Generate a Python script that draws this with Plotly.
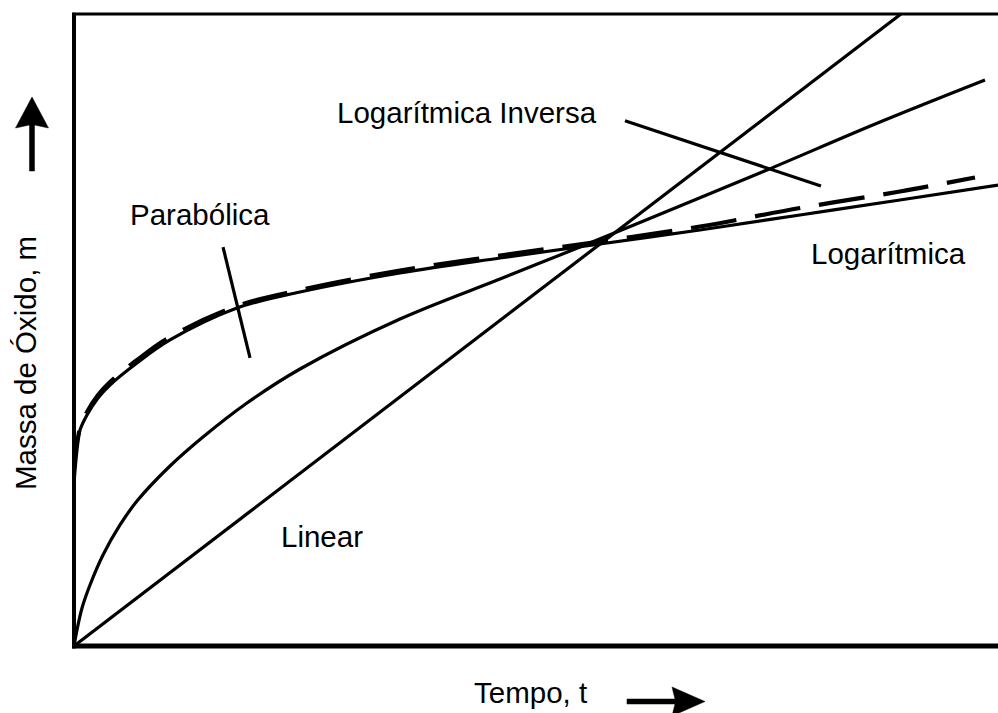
import plotly.graph_objects as go

# ---- data (time t and oxide mass m, arbitrary units) ----
linear_t = [0.0, 8.95]
linear_m = [0.0, 10.0]

inversa_t = [0.0, 0.0325, 0.0866, 0.1732, 0.3139, 0.4978, 0.6818, 1.039, 1.396, 1.872,
             2.446, 3.528, 4.610, 5.476, 6.558, 7.500, 8.723, 9.859]
inversa_m = [0.0, 0.253, 0.601, 0.965, 1.440, 1.915, 2.294, 2.848, 3.307, 3.845,
             4.383, 5.174, 5.807, 6.313, 6.962, 7.532, 8.291, 8.956]

log_t = [0.0, 0.0216, 0.0649, 0.1407, 0.2597, 0.3896, 0.6818, 1.039, 1.764, 2.446,
         3.528, 4.610, 5.693, 6.775, 7.857, 8.939, 10.0]
log_m = [2.674, 3.101, 3.418, 3.655, 3.924, 4.130, 4.478, 4.842, 5.348, 5.601,
         5.902, 6.139, 6.361, 6.582, 6.820, 7.057, 7.294]

parab_t = [0.0, 0.0649, 0.1407, 0.2597, 0.3896, 0.6818, 1.039, 1.764, 2.446,
           3.528, 4.610, 5.693, 6.775, 7.857, 8.939, 9.751]
parab_m = [2.674, 3.449, 3.703, 3.972, 4.177, 4.525, 4.889, 5.380, 5.633,
           5.941, 6.179, 6.400, 6.638, 6.930, 7.191, 7.413]

# leader lines for labels
ptr_parab_t = [1.613, 1.905]
ptr_parab_m = [6.31, 4.56]
ptr_inv_t = [5.963, 8.084]
ptr_inv_m = [8.31, 7.28]

labels = ["Logarítmica Inversa", "Parabólica", "Logarítmica", "Linear"]
label_t = [4.253, 1.364, 8.810, 2.684]
label_m = [8.449, 6.835, 6.218, 1.725]

x_title = "Tempo, t"
y_title = "Massa de Óxido, m"

FONT = "Liberation Sans, Arial, Helvetica, sans-serif"
FS = 29.5
BLACK = "#000000"
LW = 3.2

# layout geometry (pixels)
W, H = 998, 713
ML, MR, MT, MB = 74, 0, 14, 67
PW, PH = W - ML - MR, H - MT - MB


def px(x):
    return (x - ML) / PW


def py(y):
    return (H - MB - y) / PH


def path(points):
    return "M " + " L ".join(f"{px(a):.5f},{py(b):.5f}" for a, b in points) + " Z"


fig = go.Figure()

fig.add_trace(go.Scatter(x=linear_t, y=linear_m, mode="lines",
                         line=dict(color=BLACK, width=LW), hoverinfo="skip"))
fig.add_trace(go.Scatter(x=inversa_t, y=inversa_m, mode="lines",
                         line=dict(color=BLACK, width=LW, shape="spline", smoothing=1.0),
                         hoverinfo="skip"))
fig.add_trace(go.Scatter(x=log_t, y=log_m, mode="lines",
                         line=dict(color=BLACK, width=LW, shape="spline", smoothing=1.0),
                         hoverinfo="skip"))
fig.add_trace(go.Scatter(x=parab_t, y=parab_m, mode="lines",
                         line=dict(color=BLACK, width=4.2, shape="spline", smoothing=1.0,
                                   dash="46px,19px"),
                         hoverinfo="skip"))
fig.add_trace(go.Scatter(x=ptr_parab_t, y=ptr_parab_m, mode="lines",
                         line=dict(color=BLACK, width=LW), hoverinfo="skip"))
fig.add_trace(go.Scatter(x=ptr_inv_t, y=ptr_inv_m, mode="lines",
                         line=dict(color=BLACK, width=LW), hoverinfo="skip"))

annotations = []
for txt, tx, my in zip(labels, label_t, label_m):
    annotations.append(dict(x=tx, y=my, xref="x", yref="y", text=txt, showarrow=False,
                            xanchor="center", yanchor="middle",
                            font=dict(family=FONT, size=FS, color=BLACK)))

annotations.append(dict(x=px(530), y=py(692), xref="paper", yref="paper", text=x_title,
                        showarrow=False, xanchor="center", yanchor="middle",
                        font=dict(family=FONT, size=FS, color=BLACK)))
annotations.append(dict(x=px(25), y=py(363), xref="paper", yref="paper", text=y_title,
                        showarrow=False, xanchor="center", yanchor="middle", textangle=-90,
                        font=dict(family=FONT, size=FS, color=BLACK)))

up_arrow = [(29.5, 171), (34.5, 171), (34.5, 125), (48.5, 128), (32, 97),
            (15.5, 128), (29.5, 125)]
right_arrow = [(627, 699), (675, 699), (672, 687), (705, 701.5), (672, 716),
               (675, 704), (627, 704)]

shapes = [
    dict(type="line", xref="paper", yref="paper", x0=0, x1=0, y0=-0.004, y1=1.002,
         line=dict(color=BLACK, width=4)),
    dict(type="line", xref="paper", yref="paper", x0=-0.002, x1=1, y0=0, y1=0,
         line=dict(color=BLACK, width=5)),
    dict(type="line", xref="paper", yref="paper", x0=-0.002, x1=1, y0=1, y1=1,
         line=dict(color=BLACK, width=3)),
    dict(type="path", xref="paper", yref="paper", path=path(up_arrow),
         fillcolor=BLACK, line=dict(color=BLACK, width=0.5)),
    dict(type="path", xref="paper", yref="paper", path=path(right_arrow),
         fillcolor=BLACK, line=dict(color=BLACK, width=0.5)),
]

fig.update_layout(
    width=W, height=H,
    margin=dict(l=ML, r=MR, t=MT, b=MB),
    paper_bgcolor="white", plot_bgcolor="white",
    showlegend=False,
    xaxis=dict(range=[0, 10], visible=False, fixedrange=True),
    yaxis=dict(range=[0, 10], visible=False, fixedrange=True),
    annotations=annotations,
    shapes=shapes,
)

fig.write_html("out.html")
